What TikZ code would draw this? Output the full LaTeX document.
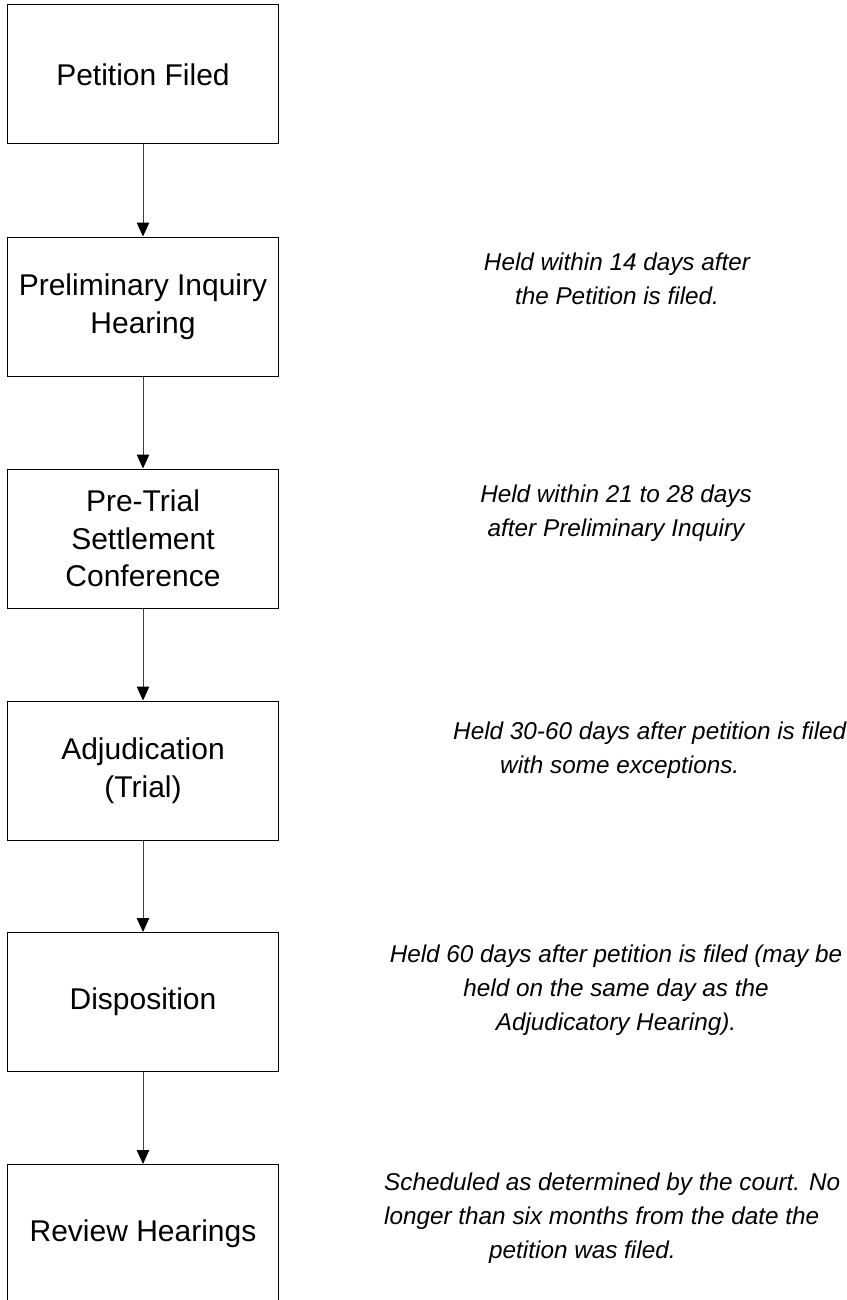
\documentclass[tikz,border=0pt]{standalone}
\usepackage{fontspec}
\setmainfont{Liberation Sans}
\usetikzlibrary{arrows.meta}
\tikzset{
  stepbox/.style={draw=black, line width=1pt, minimum width=270.5pt, minimum height=139pt,
    inner sep=0pt, align=center, font=\fontsize{30}{37.5}\selectfont},
  note/.style={inner sep=0pt, font=\fontsize{24.3}{34}\selectfont\itshape},
  flow/.style={draw=black!75, line width=1pt, -{Triangle[length=14pt,width=12.5pt,color=black]}},
}
\begin{document}
\begin{tikzpicture}[x=1pt,y=-1pt]
\useasboundingbox (0,0) rectangle (846,1300);
\clip (0,0) rectangle (846,1300);
\node[stepbox] (b1) at (143,74.5) {Petition Filed};
\node[stepbox] (b2) at (143,306.5) {Preliminary Inquiry\\Hearing};
\node[stepbox] (b3) at (143,538.5) {Pre-Trial\\Settlement\\Conference};
\node[stepbox] (b4) at (143,770.5) {Adjudication\\(Trial)};
\node[stepbox] (b5) at (143,1002) {Disposition};
\node[stepbox] (b6) at (143,1234) {Review Hearings};
\draw[flow] (b1) -- (b2);
\draw[flow] (b2) -- (b3);
\draw[flow] (b3) -- (b4);
\draw[flow] (b4) -- (b5);
\draw[flow] (b5) -- (b6);
\node[note, align=center, anchor=base] (n1) at (617,304) {Held within 14 days after\\the Petition is filed.};
\node[note, align=center, anchor=base] (n2) at (616,536.5) {Held within 21 to 28 days\\after Preliminary Inquiry};
\node[note, align=left, anchor=base west] (n3) at (453,773) {Held 30-60 days after petition is filed\\\hspace*{47pt}with some exceptions.};
\node[note, align=center, anchor=base] (n4) at (616,1030.5) {Held 60 days after petition is filed (may be\\held on the same day as the\\Adjudicatory Hearing).};
\node[note, align=left, anchor=base west] (n5) at (384,1258.7) {Scheduled as determined by the court. No\\longer than six months from the date the\\\hspace*{105pt}petition was filed.};
\end{tikzpicture}
\end{document}
